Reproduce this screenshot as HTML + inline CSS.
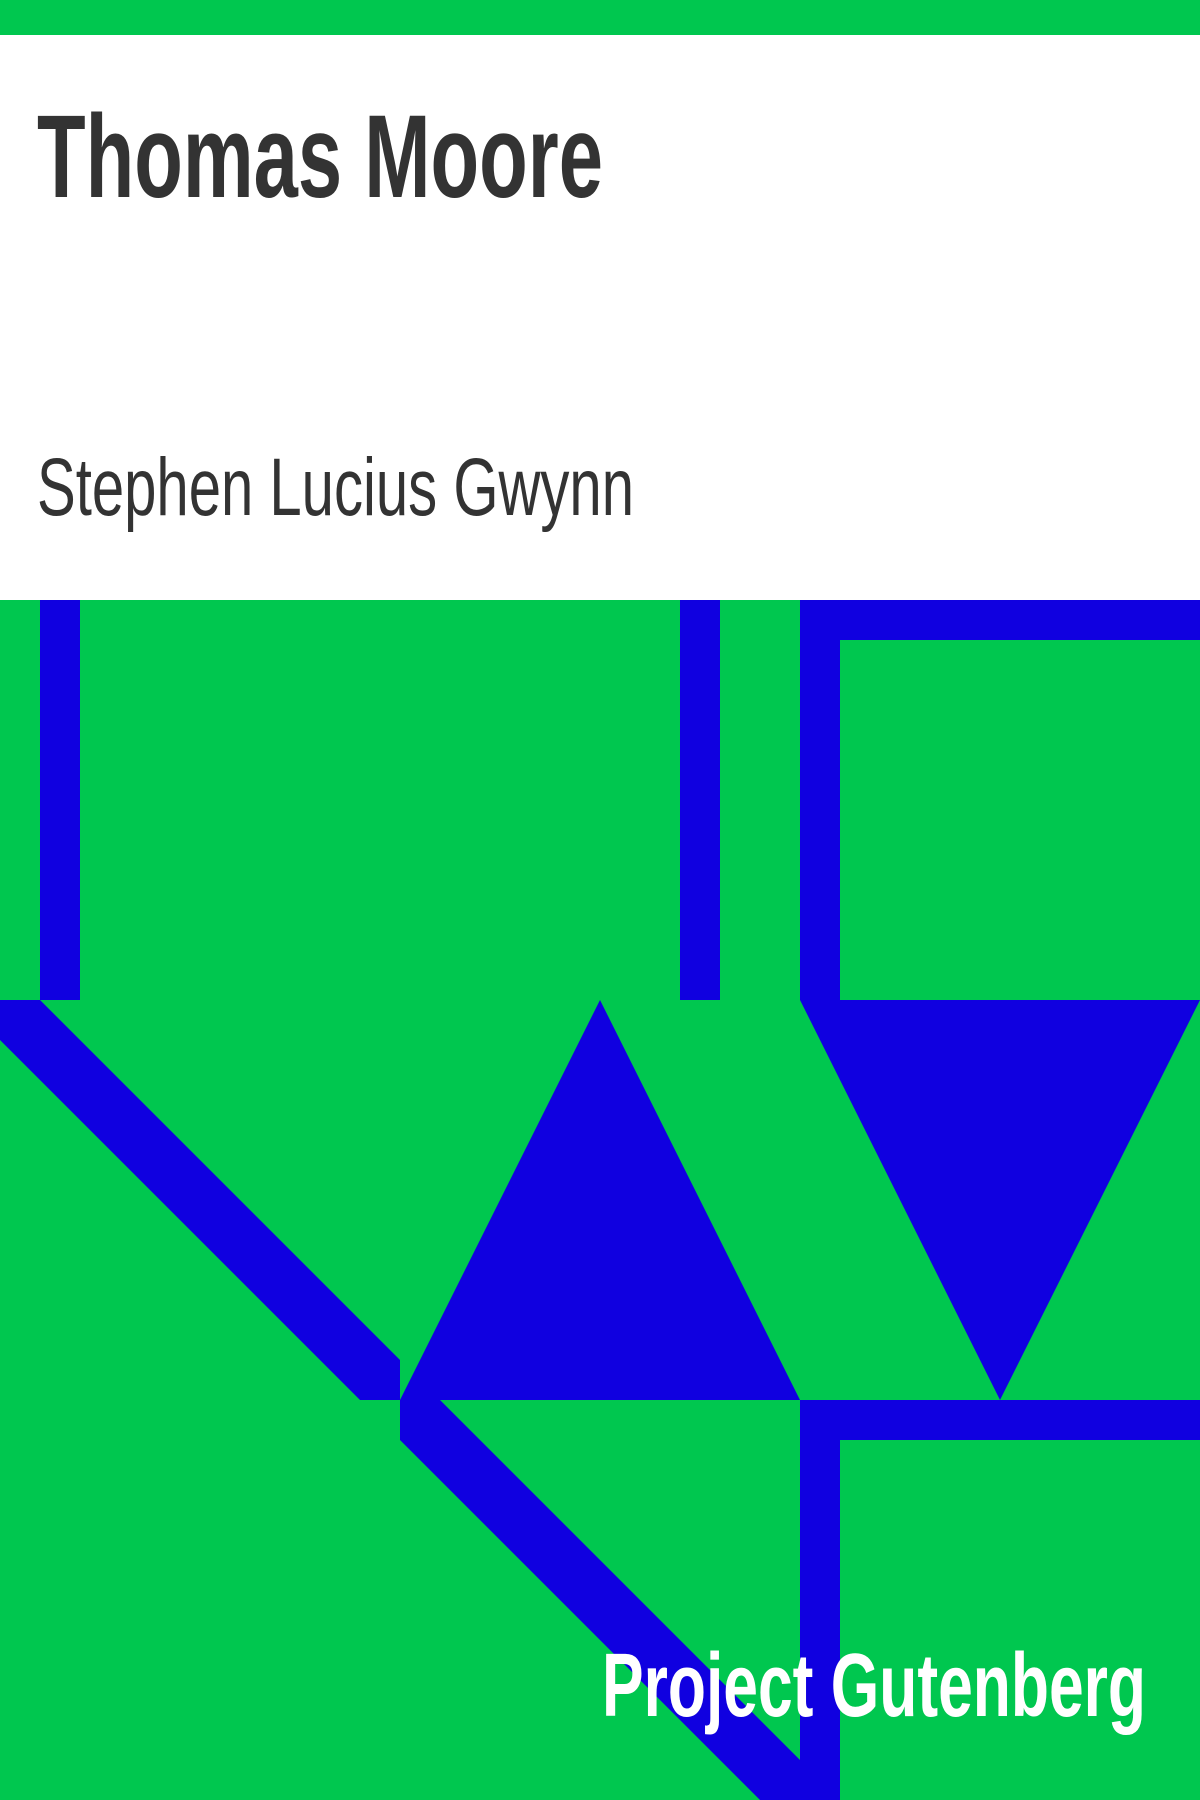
<!DOCTYPE html>
<html>
<head>
<meta charset="utf-8">
<style>
html,body{margin:0;padding:0;width:1200px;height:1800px;overflow:hidden;background:#fff;}
svg{display:block;}
</style>
</head>
<body>
<svg width="1200" height="1800" viewBox="0 0 1200 1800" xmlns="http://www.w3.org/2000/svg">
  <rect x="0" y="0" width="1200" height="35" fill="#00c74f"/>
  <rect x="0" y="35" width="1200" height="565" fill="#ffffff"/>
  <text x="37" y="197" font-family="Liberation Sans, sans-serif" font-weight="bold" font-size="118" fill="#333333" textLength="566" lengthAdjust="spacingAndGlyphs">Thomas Moore</text>
  <text x="37" y="515" font-family="Liberation Sans, sans-serif" font-size="82" fill="#333333" textLength="597" lengthAdjust="spacingAndGlyphs">Stephen Lucius Gwynn</text>

  <g>
    <rect x="0" y="600" width="1200" height="1200" fill="#00c74f"/>
    <rect x="40" y="600" width="40" height="400" fill="#1000e0"/>
    <rect x="680" y="600" width="40" height="400" fill="#1000e0"/>
    <rect x="800" y="600" width="400" height="40" fill="#1000e0"/>
    <rect x="800" y="600" width="40" height="400" fill="#1000e0"/>
    <polygon points="800,1000 1200,1000 1000,1400" fill="#1000e0"/>
    <polygon points="0,1000 40,1000 400,1360 400,1400 360,1400 0,1040" fill="#1000e0"/>
    <polygon points="600,1000 400,1400 800,1400" fill="#1000e0"/>
    <polygon points="400,1400 440,1400 800,1760 800,1800 760,1800 400,1440" fill="#1000e0"/>
    <rect x="800" y="1400" width="400" height="40" fill="#1000e0"/>
    <rect x="800" y="1400" width="40" height="400" fill="#1000e0"/>
  </g>
  <text x="602" y="1716" font-family="Liberation Sans, sans-serif" font-weight="bold" font-size="90" fill="#ffffff" textLength="544" lengthAdjust="spacingAndGlyphs">Project Gutenberg</text>
</svg>
</body>
</html>
